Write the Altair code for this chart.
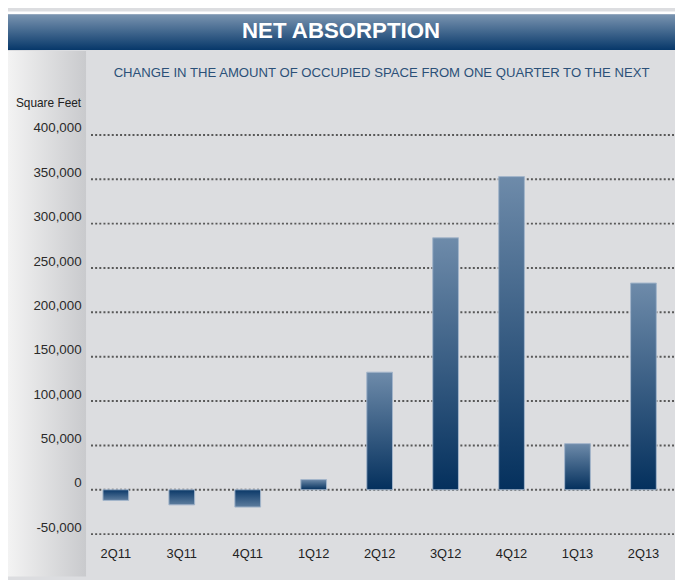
import altair as alt
import pandas as pd

quarters = ["2Q11", "3Q11", "4Q11", "1Q12", "2Q12", "3Q12", "4Q12", "1Q13", "2Q13"]
values = [-12000, -17000, -19500, 11500, 132500, 284000, 353000, 52000, 233000]
tick_values = [-50000, 0, 50000, 100000, 150000, 200000, 250000, 300000, 350000, 400000]

title_text = "NET ABSORPTION"
subtitle_text = "CHANGE IN THE AMOUNT OF OCCUPIED SPACE FROM ONE QUARTER TO THE NEXT"
unit_text = "Square Feet"

df = pd.DataFrame({"quarter": quarters, "value": values})
ticks_df = pd.DataFrame({"value": tick_values})
one = pd.DataFrame({"a": [0]})

SANS = "Liberation Sans, Arial, sans-serif"

def grad(c1, c2, horizontal=False):
    return {
        "gradient": "linear",
        "x1": 0, "y1": 0,
        "x2": 1 if horizontal else 0, "y2": 0 if horizontal else 1,
        "stops": [{"offset": 0, "color": c1}, {"offset": 1, "color": c2}],
    }

y_scale = alt.Scale(domain=[-50000, 400000], nice=False)
y_axis = alt.Axis(values=tick_values, title=None, domain=False, ticks=False,
                  labelExpr="datum.value < 0 ? '-' + format(-datum.value, ',') : format(datum.value, ',')",
                  labelFont=SANS, labelFontSize=13.5, labelColor="#2a2a2a", labelPadding=10,
                  labelBaseline="alphabetic", labelOffset=-3, grid=False, zindex=1)

x_enc = alt.X(
    "quarter:N",
    scale=alt.Scale(domain=quarters, paddingInner=0.61, paddingOuter=0.232, align=0.39),
    axis=alt.Axis(title=None, labelAngle=0, domain=False, ticks=False, labelPadding=14,
                  labelFont=SANS, labelFontSize=13, labelColor="#222", grid=False, zindex=1),
)
y_enc = alt.Y("value:Q", scale=y_scale, axis=y_axis)

strip = alt.Chart(one).mark_rect(fill=grad("#f3f3f3", "#c9cacd", horizontal=True)).encode(
    x=alt.value(-84), x2=alt.value(-5), y=alt.value(-85), y2=alt.value(447))
white_top = alt.Chart(one).mark_rect(fill="#ffffff").encode(
    x=alt.value(-84), x2=alt.value(591), y=alt.value(-125), y2=alt.value(-122))
title_bar = alt.Chart(one).mark_rect(fill=grad("#7a94b0", "#07386a")).encode(
    x=alt.value(-84), x2=alt.value(591), y=alt.value(-122), y2=alt.value(-86))
title = alt.Chart(one).mark_text(text=title_text, font=SANS, fontSize=22.5, fontWeight="bold",
                                 color="#ffffff", align="center", baseline="middle").encode(
    x=alt.value(253), y=alt.value(-105))
subtitle = alt.Chart(one).mark_text(text=subtitle_text, font=SANS, fontSize=13.3,
                                    color="#2b5078", align="center", baseline="middle").encode(
    x=alt.value(294), y=alt.value(-63))
unit = alt.Chart(one).mark_text(text=unit_text, font=SANS, fontSize=12,
                                color="#222", align="right", baseline="middle").encode(
    x=alt.value(-10), y=alt.value(-32))

grid = alt.Chart(ticks_df).mark_rule(color="#585858", strokeWidth=2, strokeDash=[2, 2.2]).encode(
    y=y_enc, x=alt.value(0), x2=alt.value(591))

pos = alt.Chart(df).transform_filter("datum.value >= 0").mark_bar(
    fill=grad("#6e8baa", "#04305d"), stroke="#a3b5ca", strokeWidth=1).encode(
    x=x_enc, y=y_enc, y2=alt.datum(0))
neg = alt.Chart(df).transform_filter("datum.value < 0").mark_bar(
    fill=grad("#0a3868", "#5e7d9e"), stroke="#a3b5ca", strokeWidth=1).encode(
    x=x_enc, y=y_enc, y2=alt.datum(0))

chart = alt.layer(strip, white_top, title_bar, title, subtitle, unit, grid, pos, neg).properties(
    width=591, height=404,
    autosize=alt.AutoSizeParams(type="none"),
    padding={"left": 84, "top": 125, "right": 0, "bottom": 43},
    background="#dcdde0",
).configure_view(stroke=None)

chart.save("out.html", embed_options={"renderer": "svg", "actions": False})
